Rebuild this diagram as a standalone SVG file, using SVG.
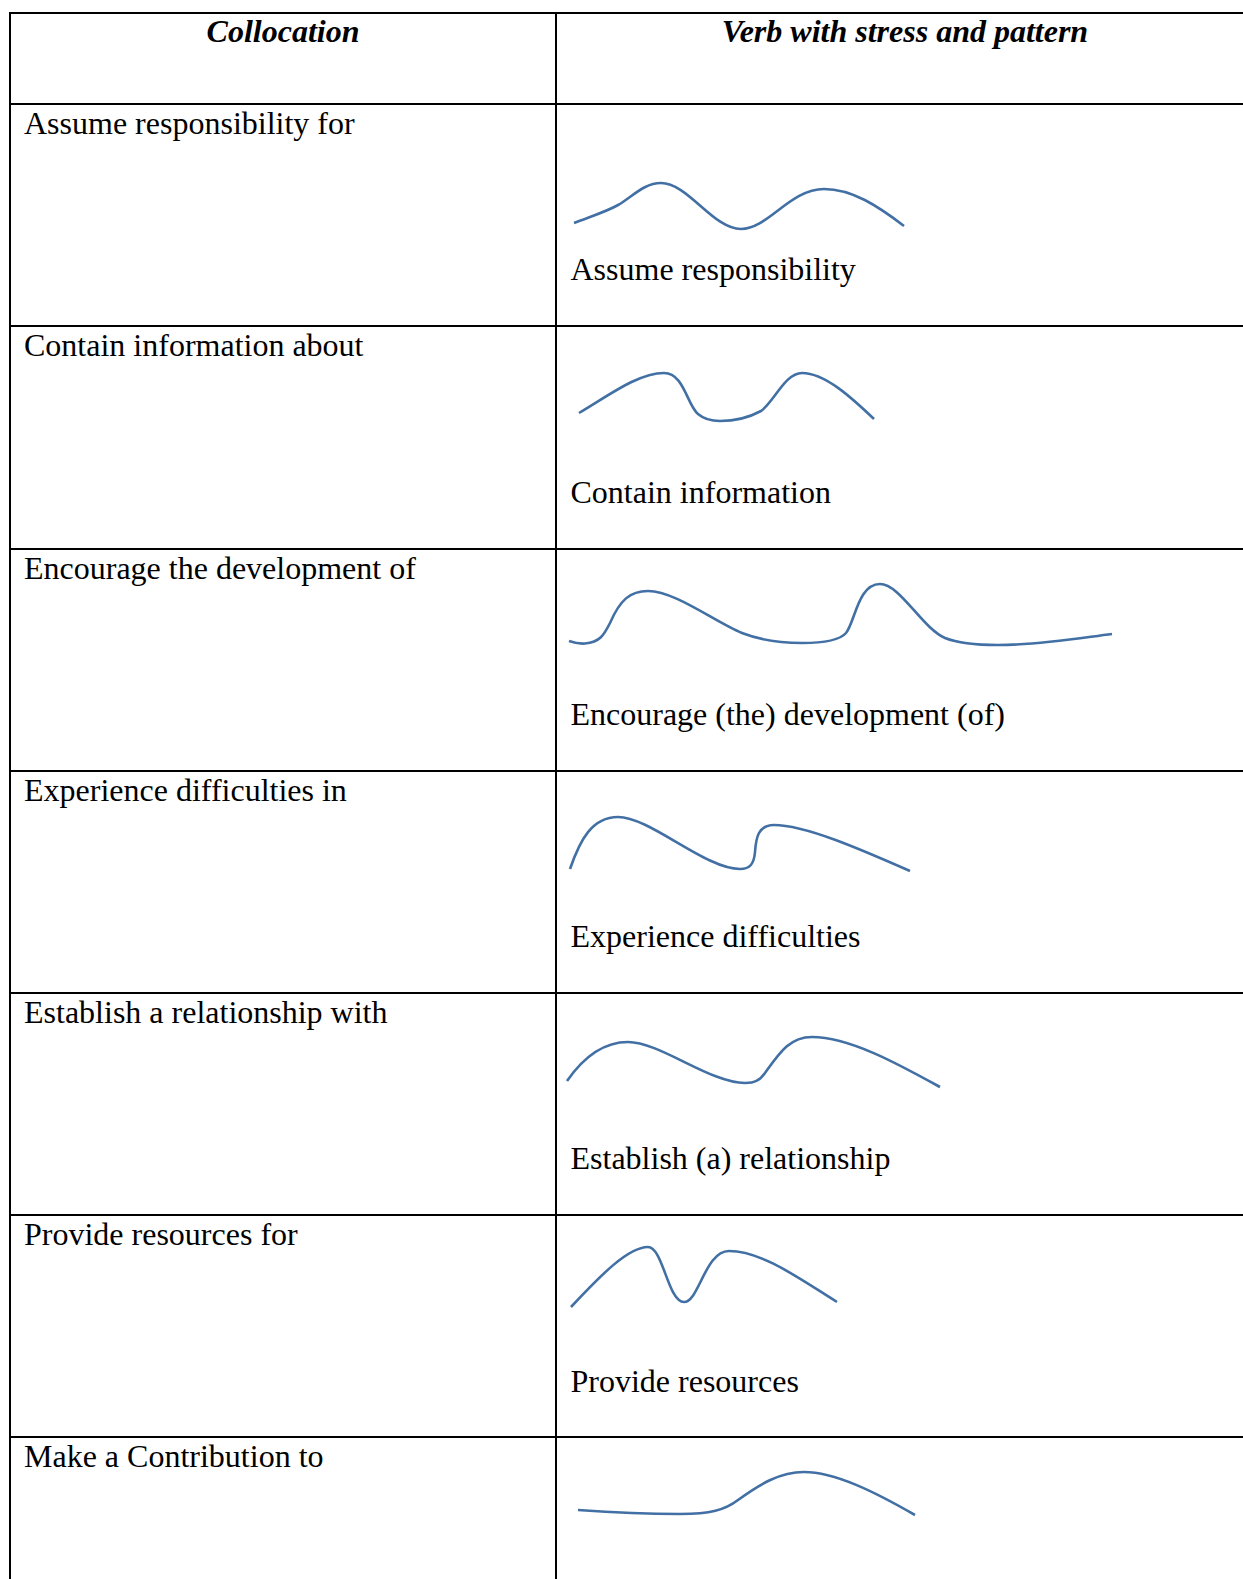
<svg xmlns="http://www.w3.org/2000/svg" width="1243" height="1579" viewBox="0 0 1243 1579">
<style>
.grid line{stroke:#000;stroke-width:2;shape-rendering:crispEdges}
text{font-family:"Liberation Serif","Times New Roman",serif;font-size:32px;fill:#000}
.hd{font-weight:bold;font-style:italic;text-anchor:middle}
.curve{fill:none;stroke:#4270a4;stroke-width:2.6;stroke-linecap:butt;stroke-linejoin:round}
</style>
<rect width="1243" height="1579" fill="#fff"/>
<g id="grid" class="grid">
<line x1="9" y1="12.5" x2="1243" y2="12.5"/>
<line x1="9" y1="103.5" x2="1243" y2="103.5"/>
<line x1="9" y1="326" x2="1243" y2="326"/>
<line x1="9" y1="548.5" x2="1243" y2="548.5"/>
<line x1="9" y1="770.5" x2="1243" y2="770.5"/>
<line x1="9" y1="992.5" x2="1243" y2="992.5"/>
<line x1="9" y1="1215" x2="1243" y2="1215"/>
<line x1="9" y1="1437" x2="1243" y2="1437"/>
<line x1="10" y1="11.5" x2="10" y2="1579"/>
<line x1="556" y1="11.5" x2="556" y2="1579"/>
</g>
<g id="header">
<text class="hd" x="283" y="41.5">Collocation</text>
<text class="hd" x="905" y="41.5">Verb with stress and pattern</text>
</g>
<g id="row1">
<text x="24" y="133.5">Assume responsibility for</text>
<path class="curve" d="M574,223 C589,217 606,212 619,204.5 C634,195 645,183 661,183 C688,183 713,229 741,229 C768,229 790,189 824,189 C852,189 878,206 904,226"/>
<text x="570.5" y="280">Assume responsibility</text>
</g>
<g id="row2">
<text x="24" y="356">Contain information about</text>
<path class="curve" d="M579,413 C608,396 638,373 664,373 C684,373 687,405 698,414 C705,420 712,421 720,421 C735,421 750,417 761,411 C774,402 785,373 802,373 C825,373 852,398 874,419"/>
<text x="570.5" y="502.5">Contain information</text>
</g>
<g id="row3">
<text x="24" y="578.5">Encourage the development of</text>
<path class="curve" d="M569,641 C575,643 580,644 585,643.5 C600,642 604,635 610,623 C620,600 630,591 648,591 C675,591 715,622 742,633 C760,640 780,643 802,643 C825,643 840,640 846,633 C855,622 858,584 880,584 C900,584 922,628 945,638 C960,644 980,645 998,645 C1040,645 1080,638 1112,634"/>
<text x="570.5" y="725">Encourage (the) development (of)</text>
</g>
<g id="row4">
<text x="24" y="800.5">Experience difficulties in</text>
<path class="curve" d="M570,869 C580,840 592,817 618,817 C650,817 705,869 740,869 C750,869 754,864 755,852 C756,838 758,825 774,825 C805,825 860,849 910,871"/>
<text x="570.5" y="947">Experience difficulties</text>
</g>
<g id="row5">
<text x="24" y="1022.5">Establish a relationship with</text>
<path class="curve" d="M567,1081 C585,1055 605,1042 628,1042 C660,1042 710,1083 745,1083 C755,1083 760,1080 765,1073 C780,1052 790,1037 812,1037 C850,1037 900,1065 940,1087"/>
<text x="570.5" y="1169">Establish (a) relationship</text>
</g>
<g id="row6">
<text x="24" y="1245">Provide resources for</text>
<path class="curve" d="M571,1307 C600,1276 628,1247 648,1247 C663,1247 668,1302 684,1302 C699,1302 705,1251 729,1251 C762,1251 800,1279 837,1302"/>
<text x="570.5" y="1391.5">Provide resources</text>
</g>
<g id="row7">
<text x="24" y="1467">Make a Contribution to</text>
<path class="curve" d="M578,1510 C620,1513 650,1514 680,1514 C710,1514 725,1510 738,1500 C760,1484 780,1472 804,1472 C835,1472 875,1492 915,1515"/>
</g>
</svg>
